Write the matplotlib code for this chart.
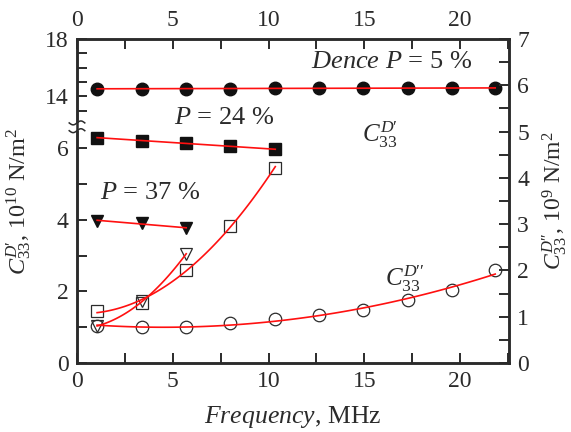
import numpy as np
import matplotlib

matplotlib.use("Agg")
import matplotlib.pyplot as plt

# ---------- data ---------- #
freq_all = [1.05, 3.4, 5.7, 8.0, 10.35, 12.65, 14.95, 17.27, 19.58, 21.83]
freq_24 = [1.05, 3.4, 5.7, 8.0, 10.35]
freq_37 = [1.05, 3.4, 5.7]

# C33 D' (10^10 N/m^2), left axis
real_5 = [14.53, 14.54, 14.55, 14.55, 14.56, 14.56, 14.57, 14.58, 14.58, 14.6]
real_24 = [6.30, 6.21, 6.14, 6.06, 5.97]
real_37 = [3.98, 3.90, 3.77]

# C33 D'' (10^9 N/m^2), right axis
imag_5 = [0.79, 0.78, 0.78, 0.86, 0.94, 1.04, 1.14, 1.37, 1.57, 2.0]
imag_24 = [1.12, 1.30, 2.02, 2.97, 4.22]
imag_37 = [0.80, 1.33, 2.36]

# ---------- style ---------- #
plt.rcParams["font.family"] = "serif"
plt.rcParams["font.serif"] = ["Liberation Serif"]
plt.rcParams["mathtext.fontset"] = "custom"
plt.rcParams["mathtext.rm"] = "Liberation Serif"
plt.rcParams["mathtext.it"] = "Liberation Serif:italic"
plt.rcParams["font.size"] = 16
INK = "#2b2b2b"
RED = "#ff1010"

# broken left axis: 0..6.6 and 11.9..18, mapped to right-axis units
BRK_Y = [0, 6.61, 11.91, 18.0]
BRK_F = [0, 5.11, 5.111, 7.0]


def fwd(y):
    return np.interp(y, BRK_Y, BRK_F)


def inv(v):
    return np.interp(v, BRK_F, BRK_Y)


fig = plt.figure(figsize=(5.71, 4.32), dpi=100)
ax = fig.add_axes([77 / 571, 69 / 432, 432 / 571, 324 / 432])
ax.set_yscale("function", functions=(fwd, inv))
ax.set_xlim(0, 22.55)
ax.set_ylim(0, 18)
ax2 = ax.twinx()
ax2.set_ylim(0, 7)

mk = dict(linestyle="none", color="#111111", markersize=9, zorder=3)
ax.plot(freq_all, real_5, marker="o", **mk)
ax.plot(freq_24, real_24, marker="s", markersize=8.5, linestyle="none", color="#111111", zorder=3)
ax.plot(freq_37, real_37, marker="v", **mk)

op = dict(linestyle="none", markerfacecolor="none", markeredgecolor=INK,
          markeredgewidth=0.9, markersize=9, zorder=3)
ax2.plot(freq_all, imag_5, marker="o", **op)
ax2.plot(freq_24, imag_24, marker="s", **{**op, "markersize": 8.5})
ax2.plot(freq_37, imag_37, marker="v", **op)

# fit lines
for axx, xs, ys, deg in [
    (ax, freq_all, real_5, 1),
    (ax, freq_24, real_24, 1),
    (ax, freq_37, real_37, 1),
    (ax2, freq_all, imag_5, 2),
    (ax2, freq_24, imag_24, 2),
    (ax2, freq_37, imag_37, 2),
]:
    c = np.polyfit(xs, ys, deg)
    xx = np.linspace(xs[0], xs[-1], 120)
    axx.plot(xx, np.polyval(c, xx), color=RED, lw=1.2, zorder=4)

# ticks
ax.set_xticks([0, 5, 10, 15, 20])
ax.set_xticks(np.arange(2.5, 22.6, 5), minor=True)
ax.set_yticks([0, 2, 4, 6, 14, 18])
ax.set_yticks([1, 3, 5, 13, 15, 16, 17], minor=True)
ax.set_yticklabels(["0", "2", "4", "6", "14", "18"])
ax2.set_yticks(range(8))
ax2.set_yticks(np.arange(0.5, 7, 1), minor=True)
for a in (ax, ax2):
    a.tick_params(which="both", direction="in", length=7, width=1.4, color=INK,
                  labelcolor=INK, labelsize=17, pad=6)
    for s in a.spines.values():
        s.set_linewidth(1.8)
        s.set_color(INK)
ax.tick_params(which="both", top=True, labeltop=True, right=False)
ax2.tick_params(which="both", top=False, bottom=False, labelbottom=False, labeltop=False)

# axis break mark on the left spine
yb = (362.7 - 126.5) / 324
ax.plot([0, 0], [yb - 0.012, yb + 0.012], transform=ax.transAxes, color="white",
        lw=4, zorder=10, clip_on=False, solid_capstyle="butt")
t = np.linspace(-1, 1, 30)
for dy in (-0.012, 0.012):
    ax.plot(0.018 * t, yb + dy + 0.006 * np.sin(np.pi * t), transform=ax.transAxes,
            color=INK, lw=1.1, zorder=11, clip_on=False)

ax.set_xlabel(r"$\mathit{Frequency}$, MHz", color=INK, fontsize=18.5)
ax.set_ylabel(r"$C_{33}^{D\prime}$, $10^{10}$ N/m$^2$", color=INK, fontsize=17.5)
ax2.set_ylabel(r"$C_{33}^{D\prime\prime}$, $10^{9}$ N/m$^2$", color=INK, fontsize=17)
ax.xaxis.set_label_coords(0.5, -0.128)
ax.yaxis.set_label_coords(-0.1, 0.5)
ax2.yaxis.set_label_coords(1.072, 0.5)

ann = dict(transform=ax.transAxes, ha="center", va="center", color=INK, fontsize=19)
ax.text(0.729, 0.929, r"$\mathit{Dence}$ $\mathit{P}$ = 5 %", **ann)
ax.text(0.340, 0.756, r"$\mathit{P}$ = 24 %", **ann)
ax.text(0.169, 0.525, r"$\mathit{P}$ = 37 %", **ann)
ax.text(0.701, 0.704, r"$C_{33}^{D\prime}$", **{**ann, "fontsize": 18})
ax.text(0.759, 0.262, r"$C_{33}^{D\prime\prime}$", **{**ann, "fontsize": 18})

fig.savefig("out.png", dpi=100)
